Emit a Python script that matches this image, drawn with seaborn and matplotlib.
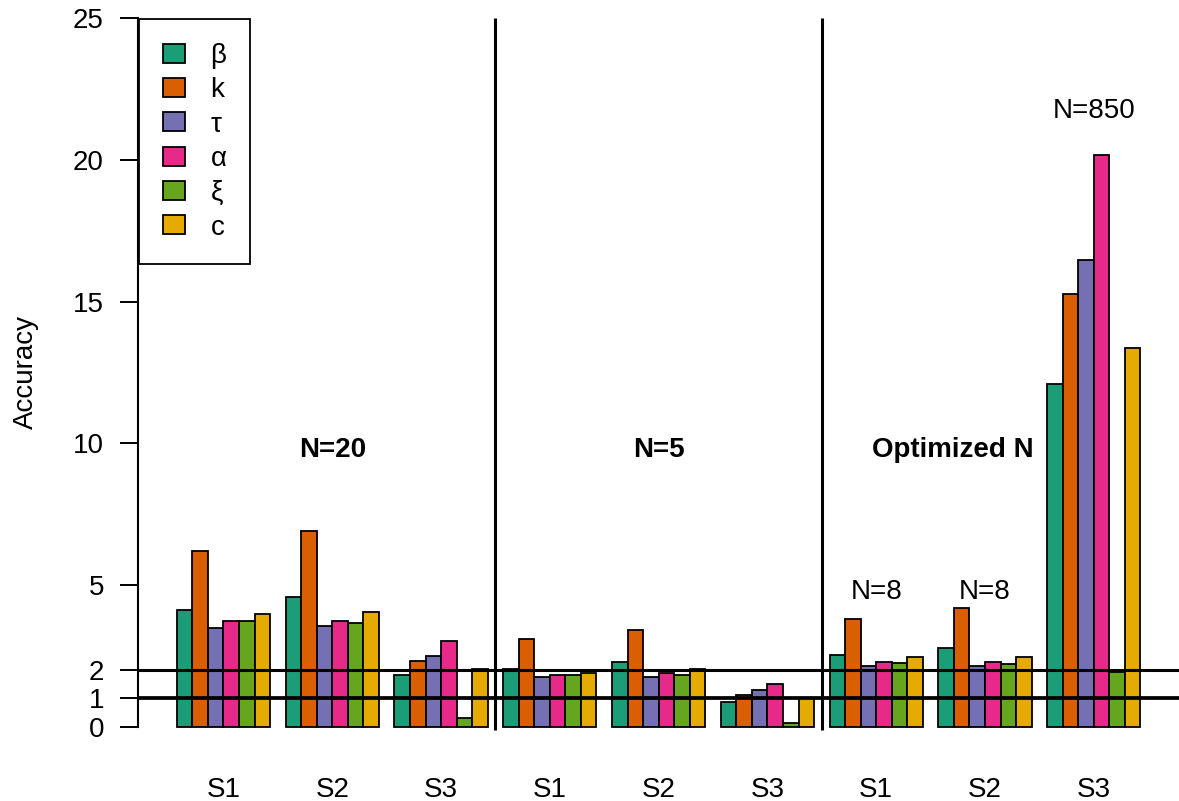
import matplotlib
matplotlib.use("Agg")
import matplotlib.pyplot as plt
import seaborn as sns
import pandas as pd

# Accuracy per parameter for each scenario/sample-size block
groups = ["N20_S1", "N20_S2", "N20_S3",
          "N5_S1", "N5_S2", "N5_S3",
          "Opt_S1", "Opt_S2", "Opt_S3"]
group_labels = ["S1", "S2", "S3", "S1", "S2", "S3", "S1", "S2", "S3"]
params = ["β", "k", "τ", "α", "ξ", "c"]

beta  = [4.11, 4.56, 1.82, 2.03, 2.28, 0.86, 2.54, 2.78, 12.10]
k     = [6.20, 6.89, 2.32, 3.10, 3.43, 1.13, 3.79, 4.18, 15.27]
tau   = [3.47, 3.54, 2.51, 1.75, 1.75, 1.28, 2.14, 2.14, 16.48]
alpha = [3.74, 3.74, 3.04, 1.83, 1.89, 1.51, 2.28, 2.28, 20.16]
xi    = [3.74, 3.66, 0.30, 1.81, 1.83, 0.12, 2.25, 2.21, 1.94]
c     = [3.99, 4.06, 2.02, 1.90, 2.03, 1.01, 2.46, 2.46, 13.37]

colors = ["#1B9E77", "#D95F02", "#7570B3", "#E7298A", "#66A61E", "#E6AB02"]

yticks = [0, 1, 2, 5, 10, 15, 20, 25]
ref_lines = [1, 2]
block_titles = ["N=20", "N=5", "Optimized N"]
n_labels = ["N=8", "N=8", "N=850"]

series = [beta, k, tau, alpha, xi, c]
rows = []
for p, vals in zip(params, series):
    for g, v in zip(groups, vals):
        rows.append({"group": g, "param": p, "value": v})
df = pd.DataFrame(rows)

sns.set_style("white")
plt.rcParams["font.family"] = ["Liberation Sans", "DejaVu Sans"]
plt.rcParams["text.color"] = "black"
plt.rcParams["axes.labelcolor"] = "black"
plt.rcParams["xtick.color"] = "black"
plt.rcParams["ytick.color"] = "black"

W, H = 1179, 801
fig = plt.figure(figsize=(W / 100, H / 100), dpi=100)
ax = fig.add_axes([0.1173, 0.0821, 0.8827, 0.906])

sns.barplot(data=df, x="group", y="value", hue="param", order=groups,
            hue_order=params, palette=colors, width=6 / 7, dodge=True,
            errorbar=None, edgecolor="black", linewidth=1.3, saturation=1,
            ax=ax)

ax.set_xlim(-0.783, 8.783)
ax.set_ylim(-0.3, 25.3)

for s in ["top", "right", "bottom"]:
    ax.spines[s].set_visible(False)
ax.spines["left"].set_bounds(0, 25)
ax.spines["left"].set_linewidth(1.5)
ax.spines["left"].set_color("black")

ax.set_yticks(yticks)
ax.set_yticklabels([str(t) for t in yticks])
ax.tick_params(axis="y", length=12.7, width=1.4, pad=12, labelsize=20,
               direction="out", left=True, colors="black")
ax.set_xticks(range(len(groups)))
ax.set_xticklabels(group_labels)
ax.tick_params(axis="x", length=0, pad=30, labelsize=20, colors="black")

ax.set_xlabel("")
ax.set_ylabel("Accuracy", fontsize=20, color="black")
ax.yaxis.set_label_coords(-0.095, 0.5)

# reference levels and block separators
ax.axhline(ref_lines[1], color="black", lw=2.2, zorder=5)
ax.axhline(ref_lines[0], color="black", lw=2.7, zorder=5)
ax.vlines([2.5, 5.5], -0.1, 25, color="black", lw=2.2, zorder=5)

# block titles
ax.text(1, 9.5, block_titles[0], ha="center", va="baseline",
        fontsize=20, fontweight="bold")
ax.text(4, 9.5, block_titles[1], ha="center", va="baseline",
        fontsize=20, fontweight="bold")
ax.text(6.706, 9.5, block_titles[2], ha="center", va="baseline",
        fontsize=20, fontweight="bold")

# sample sizes above the optimized blocks
ax.text(6, 4.49, n_labels[0], ha="center", va="baseline", fontsize=20)
ax.text(7, 4.49, n_labels[1], ha="center", va="baseline", fontsize=20)
ax.text(8, 21.48, n_labels[2], ha="center", va="baseline", fontsize=20)

leg = ax.legend(loc="upper left",
                bbox_to_anchor=(139 / W, 1 - 19.3 / H),
                bbox_transform=fig.transFigure,
                fontsize=20, frameon=True, fancybox=False,
                borderpad=0.85, borderaxespad=0, handlelength=0.82,
                handleheight=0.68, handletextpad=0.9, labelspacing=0.3)
leg.get_frame().set_edgecolor("black")
leg.get_frame().set_linewidth(1.3)
leg.get_frame().set_alpha(1)
leg.set_zorder(10)
for t in leg.get_texts():
    t.set_color("black")

fig.savefig("out.png", dpi=100)
